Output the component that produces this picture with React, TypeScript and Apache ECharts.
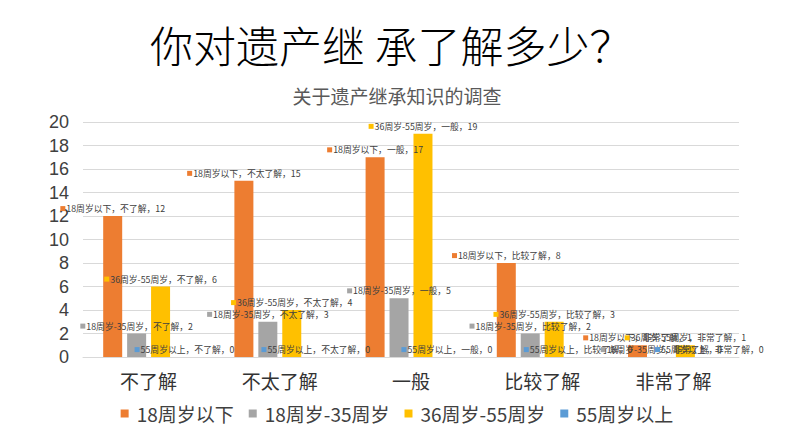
import React, { useEffect, useRef } from "react";
import * as echarts from "echarts";

const categories = ["不了解", "不太了解", "一般", "比较了解", "非常了解"];
const seriesNames = ["18周岁以下", "18周岁-35周岁", "36周岁-55周岁", "55周岁以上"];
const under18 = [12, 15, 17, 8, 1];
const age18to35 = [2, 3, 5, 2, 0];
const age36to55 = [6, 4, 19, 3, 1];
const over55 = [0, 0, 0, 0, 0];
const yTicks = { min: 0, max: 20, interval: 2 };
const colors = ["#ED7D31", "#A5A5A5", "#FFC000", "#5B9BD5"];

const cjk = '"Noto Sans CJK SC", "Noto Sans", sans-serif';

export default function App() {
  const ref = useRef<HTMLDivElement>(null);
  useEffect(() => {
    if (!ref.current) return;
    const chart = echarts.init(ref.current, undefined, { renderer: "svg" });
    const allData = [under18, age18to35, age36to55, over55];
    const series = seriesNames.map((name, i) => ({
      name,
      type: "bar",
      data: allData[i],
      barWidth: 19,
      barGap: "26%",
      itemStyle: { color: colors[i] },
      label: {
        show: true,
        position: "top",
        distance: 3,
        formatter: (p: any) => `{s| }{t|${p.seriesName}，${p.name}，${p.value}}`,
        rich: {
          s: { width: 5, height: 5, backgroundColor: colors[i], fontSize: 5 },
          t: { fontSize: 8.8, color: "#404040", fontFamily: cjk, padding: [0, 0, 0, 1] },
        },
      },
    }));
    chart.setOption({
      animation: false,
      backgroundColor: "#ffffff",
      title: [
        {
          text: "你对遗产继 承了解多少？",
          left: 145,
          top: 17,
          textStyle: { fontSize: 43, fontWeight: 300, color: "#000000", fontFamily: cjk },
        },
        {
          text: "关于遗产继承知识的调查",
          left: "center",
          top: 81,
          textStyle: { fontSize: 19, fontWeight: "normal", color: "#595959", fontFamily: cjk },
        },
      ],
      legend: {
        data: seriesNames,
        left: "center",
        top: 399,
        icon: "rect",
        itemWidth: 8,
        itemHeight: 8,
        itemGap: 15,
        textStyle: { fontSize: 19, color: "#404040", fontFamily: cjk, padding: [0, 0, 0, 3] },
      },
      grid: { left: 83, right: 55, top: 122, bottom: 90, containLabel: false },
      xAxis: {
        type: "category",
        data: categories,
        axisTick: { show: false },
        axisLine: { lineStyle: { color: "#D9D9D9", width: 1 } },
        axisLabel: { fontSize: 19, color: "#333333", fontFamily: cjk, margin: 14 },
      },
      yAxis: {
        type: "value",
        min: yTicks.min,
        max: yTicks.max,
        interval: yTicks.interval,
        axisLine: { show: false },
        axisTick: { show: false },
        splitLine: { lineStyle: { color: "#D9D9D9", width: 1 } },
        axisLabel: {
          fontSize: 18,
          color: "#404040",
          fontFamily: '"Liberation Sans", Arial, sans-serif',
          margin: 14,
        },
      },
      series,
    });
    return () => chart.dispose();
  }, []);
  return (
    <div
      ref={ref}
      style={{ position: "fixed", left: 0, top: 0, width: 794, height: 447, background: "#fff" }}
    />
  );
}
